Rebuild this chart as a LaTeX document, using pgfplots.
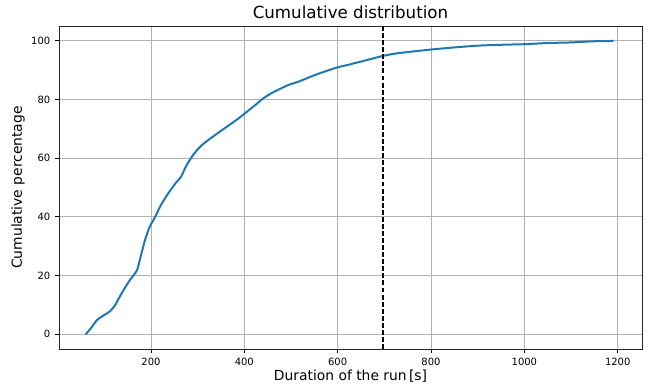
\documentclass[border=0pt]{standalone}
\usepackage{pgfplots}
\pgfplotsset{compat=1.18}
\usepackage{fontspec}
\setmainfont{DejaVu Sans}
\definecolor{mplblue}{HTML}{1F77B4}
\begin{document}
\begin{tikzpicture}
\begin{axis}[
  name=ax,
  scale only axis,
  width=437.25pt, height=242.25pt,
  xmin=3, xmax=1252, ymin=-5, ymax=105,
  xtick={200,400,600,800,1000,1200},
  ytick={0,20,40,60,80,100},
  grid=major,
  major grid style={color=black!30, line width=0.6pt},
  tick align=outside,
  tick pos=left,
  major tick length=3pt,
  tick style={black, line width=0.6pt},
  axis line style={line width=0.6pt, black!85},
  /pgf/number format/assume math mode=true,
  /pgf/number format/1000 sep={},
  ticklabel style={font=\fontsize{7.5}{9}\selectfont},
  title={Cumulative distribution},
  title style={font=\fontsize{12.5}{14}\selectfont, yshift=-4pt},
  xlabel={Duration of the run\,[s]},
  ylabel={Cumulative percentage},
  label style={font=\fontsize{10.4}{12}\selectfont},
  xlabel style={yshift=3pt},
  ylabel style={yshift=-2pt},
]
\addplot[mplblue, line width=1.5pt, smooth, tension=0.4] coordinates {
(60,0) (72,2.2) (84,4.8) (99,6.5) (112,7.8) (123,9.9) (132,12.5) (141,15)
(155,18.5) (170,21.8) (178,26.5) (187,32) (197,36.5) (209,40) (222,44.2) (237,48)
(252,51.3) (265,53.8) (275,57.2) (290,61) (303,63.5) (318,65.6) (343,68.5) (368,71.3)
(390,73.8) (411,76.5) (426,78.4) (441,80.4) (458,82.1) (478,83.7) (496,85) (517,86.1) (553,88.4)
(595,90.7) (623,91.8) (660,93.3) (694,94.7) (723,95.6) (760,96.3) (801,97)
(850,97.7) (900,98.3) (950,98.6) (999,98.8) (1050,99.2) (1099,99.4) (1150,99.8) (1191,99.9)
};
\addplot[black, dash pattern=on 3.7pt off 1.6pt, line width=1pt] coordinates {(697,-5) (697,105)};
\end{axis}
\pgfresetboundingbox
\path ([shift={(-44.25pt,-27pt)}]ax.south west) rectangle ([shift={(11.25pt,19.5pt)}]ax.north east);
\end{tikzpicture}
\end{document}
